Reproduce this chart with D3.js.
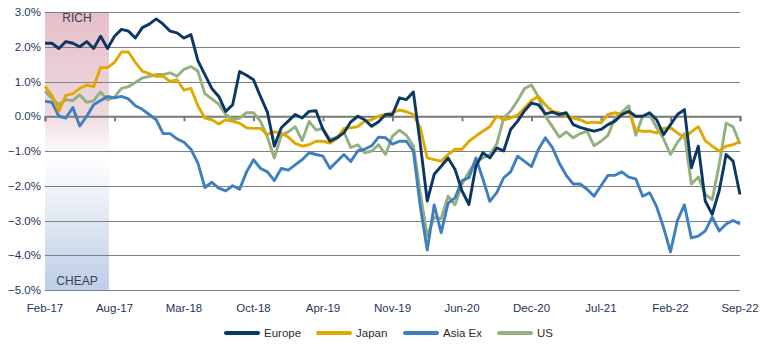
<!DOCTYPE html>
<html>
<head>
<meta charset="utf-8">
<script src="https://cdn.jsdelivr.net/npm/d3@7"></script>
<style>
  body { margin: 0; background: #fff; }
  svg { display: block; font-family: "Liberation Sans", Arial, sans-serif; }
</style>
</head>
<body>
<div id="chart"></div>
<script>
// tick labels along the bottom (one every 10 points)
var dateLabels = ['Feb-17','Aug-17','Mar-18','Oct-18','Apr-19','Nov-19','Jun-20','Dec-20','Jul-21','Feb-22','Sep-22']
var yTicks = [3, 2, 1, 0, -1, -2, -3, -4, -5]

// relative valuation (%), 101 points Feb-17 .. Sep-22
var europe = [2.1,2.1,1.95,2.15,2.1,2.0,2.15,1.95,2.3,1.95,
  2.3,2.5,2.45,2.25,2.55,2.65,2.8,2.65,2.45,2.4,
  2.25,2.35,1.6,1.2,0.8,0.57,0.14,0.33,1.29,1.18,
  1.05,0.57,0.12,-0.86,-0.33,-0.14,0.05,-0.05,0.14,0.16,
  -0.38,-0.72,-0.62,-0.48,-0.16,0.0,-0.1,-0.29,-0.16,0.05,
  0.05,0.53,0.48,0.7,-0.8,-2.44,-1.67,-1.44,-1.2,-1.53,
  -2.15,-2.54,-1.44,-1.05,-1.2,-0.91,-1.0,-0.38,-0.14,0.16,
  0.38,0.33,0.07,0.12,0.05,0.1,-0.24,-0.32,-0.38,-0.43,
  -0.38,-0.24,-0.14,0.05,0.14,0.0,0.0,0.1,-0.1,-0.53,
  -0.24,0.05,0.19,-1.48,-0.86,-2.44,-2.82,-2.15,-1.1,-1.29,
  -2.25]
var japan = [0.86,0.6,0.15,0.6,0.65,0.8,0.9,0.85,1.4,1.4,
  1.55,1.85,1.85,1.55,1.3,1.23,1.15,1.15,1.0,1.05,
  0.75,0.8,0.3,-0.05,-0.1,-0.22,-0.1,-0.15,-0.2,-0.33,
  -0.35,-0.35,-0.52,-0.45,-0.48,-0.6,-0.78,-0.86,-0.82,-0.72,
  -0.72,-0.77,-0.65,-0.35,-0.33,-0.3,-0.14,-0.1,0.0,0.05,
  0.1,0.18,0.13,0.05,-0.33,-1.2,-1.25,-1.29,-1.1,-0.95,
  -0.95,-0.72,-0.57,-0.43,-0.3,0.0,-0.1,-0.05,0.03,0.24,
  0.45,0.57,0.33,0.14,0.1,0.0,-0.05,-0.1,-0.19,-0.17,
  -0.19,0.05,0.1,0.05,0.14,-0.4,-0.43,-0.43,-0.48,-0.35,
  -0.33,-0.48,-0.62,-0.45,-0.3,-0.7,-0.86,-1.0,-0.86,-0.82,
  -0.72]
var asiaEx = [0.43,0.4,0.0,-0.05,0.25,-0.28,0.0,0.33,0.45,0.57,
  0.53,0.57,0.5,0.3,0.2,0.05,-0.1,-0.5,-0.5,-0.65,
  -0.75,-0.95,-1.35,-2.05,-1.9,-2.07,-2.15,-2.0,-2.1,-1.6,
  -1.25,-1.5,-1.6,-1.85,-1.5,-1.55,-1.4,-1.25,-1.05,-1.1,
  -1.15,-1.5,-1.3,-1.1,-1.3,-1.0,-0.95,-0.85,-0.6,-0.62,
  -0.8,-0.72,-0.72,-1.0,-2.6,-3.85,-2.55,-3.35,-2.5,-2.35,
  -1.85,-1.77,-1.2,-1.8,-2.45,-2.2,-1.77,-1.6,-1.15,-1.3,
  -1.45,-0.95,-0.62,-0.9,-1.35,-1.7,-1.95,-1.95,-2.1,-2.3,
  -2.0,-1.7,-1.7,-1.6,-1.75,-1.8,-2.3,-2.2,-2.6,-3.2,
  -3.9,-3.0,-2.55,-3.5,-3.45,-3.3,-2.9,-3.3,-3.1,-3.0,
  -3.1]
var us = [0.72,0.52,0.33,0.48,0.45,0.62,0.4,0.45,0.7,0.47,
  0.55,0.8,0.85,0.97,1.1,1.15,1.2,1.2,1.25,1.15,
  1.35,1.43,1.3,0.65,0.5,0.35,0.05,-0.1,-0.05,0.1,
  0.1,-0.15,-0.6,-1.2,-0.55,-0.45,-0.3,-0.7,-0.15,-0.4,
  -0.35,-0.67,-0.6,-0.45,-0.9,-0.82,-1.05,-1.0,-0.82,-1.1,
  -0.57,-0.4,-0.55,-0.85,-2.2,-3.45,-2.9,-2.95,-2.3,-2.55,
  -1.95,-1.6,-1.3,-1.2,-1.1,-0.8,-0.05,0.15,0.45,0.8,
  0.9,0.55,0.0,-0.3,-0.6,-0.45,-0.62,-0.5,-0.43,-0.85,
  -0.72,-0.55,-0.05,0.12,0.3,-0.55,0.0,0.05,-0.33,-0.65,
  -1.1,-0.75,-0.5,-1.95,-1.75,-2.25,-2.4,-1.4,-0.2,-0.3,
  -0.8]

var seriesNames = ['Europe', 'Japan', 'Asia Ex', 'US']
var seriesColors = ['#0a3763', '#e0a800', '#3d7fc0', '#93b07e']
var seriesData = [europe, japan, asiaEx, us]
var shadeEnd = 9.2   // rich/cheap band covers the first months

var width = 770, height = 347
var margin = {left: 45, right: 30, top: 12, bottom: 57}

var svg = d3.select('#chart').append('svg')
  .attr('width', width)
  .attr('height', height)

var x = d3.scaleLinear()
  .domain([0, europe.length - 1])
  .range([margin.left, width - margin.right])
var y = d3.scaleLinear()
  .domain([-5, 3])
  .range([height - margin.bottom, margin.top])

// shaded band
var grad = svg.append('defs').append('linearGradient')
  .attr('id', 'band')
  .attr('x1', 0).attr('y1', 0).attr('x2', 0).attr('y2', 1)
grad.append('stop').attr('offset', '0%').attr('stop-color', '#e5bfca')
grad.append('stop').attr('offset', '36%').attr('stop-color', '#eed8de')
grad.append('stop').attr('offset', '52%').attr('stop-color', '#ffffff')
grad.append('stop').attr('offset', '100%').attr('stop-color', '#bdcee6')

svg.append('rect')
  .attr('x', x(0))
  .attr('y', y(3))
  .attr('width', x(shadeEnd) - x(0))
  .attr('height', y(-5) - y(3))
  .attr('fill', 'url(#band)')

svg.append('text')
  .attr('x', x(shadeEnd / 2)).attr('y', y(2.7))
  .attr('text-anchor', 'middle')
  .style('font-size', '12px').style('fill', '#3c3f52')
  .text('RICH')
svg.append('text')
  .attr('x', x(shadeEnd / 2)).attr('y', y(-4.85))
  .attr('text-anchor', 'middle')
  .style('font-size', '12px').style('fill', '#3c3f52')
  .text('CHEAP')

// gridlines
svg.append('g')
  .selectAll('line')
  .data(yTicks.filter(function(d) { return d !== 0; }))
  .enter().append('line')
  .attr('x1', x(0)).attr('x2', x(100))
  .attr('y1', function(d) { return Math.round(y(d)) + 0.5; })
  .attr('y2', function(d) { return Math.round(y(d)) + 0.5; })
  .style('stroke', '#808080')
  .style('stroke-width', 1)

// y labels
svg.append('g')
  .selectAll('text')
  .data(yTicks)
  .enter().append('text')
  .attr('x', margin.left - 4)
  .attr('y', function(d) { return y(d) + 4; })
  .attr('text-anchor', 'end')
  .style('font-size', '11.5px')
  .style('fill', '#1f3456')
  .text(function(d) { return d3.format('.1f')(d) + '%'; })

// zero axis with ticks
var xAxis = d3.axisBottom(x)
  .tickValues(d3.range(0, 101, 10))
  .tickSize(5)
  .tickFormat('')
var zero = svg.append('g')
  .attr('transform', 'translate(0,' + y(0) + ')')
  .call(xAxis)
zero.select('.domain').style('stroke', '#7a7a7a').style('stroke-width', 2)
zero.selectAll('.tick line').style('stroke', '#7a7a7a').style('stroke-width', 2)

// x labels
svg.append('g')
  .selectAll('text')
  .data(dateLabels)
  .enter().append('text')
  .attr('x', function(d, i) { return x(i * 10); })
  .attr('y', y(-5) + 22)
  .attr('text-anchor', 'middle')
  .style('font-size', '11.5px')
  .style('fill', '#1f3456')
  .text(function(d) { return d; })

// series lines
var line = d3.line()
  .x(function(d, i) { return x(i); })
  .y(function(d) { return y(d); })

var order = [3, 2, 1, 0]
svg.append('g')
  .selectAll('path')
  .data(order)
  .enter().append('path')
  .attr('d', function(k) { return line(seriesData[k]); })
  .style('fill', 'none')
  .style('stroke', function(k) { return seriesColors[k]; })
  .style('stroke-width', 2.9)
  .style('stroke-linejoin', 'round')

// legend
var legendX = [226, 318, 405, 499]
var legend = svg.append('g')
  .selectAll('g')
  .data(seriesNames)
  .enter().append('g')
  .attr('transform', function(d, i) { return 'translate(' + legendX[i] + ',333)'; })
legend.append('line')
  .attr('x1', 0).attr('x2', 32)
  .style('stroke', function(d, i) { return seriesColors[i]; })
  .style('stroke-width', 4)
  .style('stroke-linecap', 'round')
legend.append('text')
  .attr('x', 38).attr('y', 4)
  .style('font-size', '11.5px')
  .style('fill', '#2b2b2b')
  .text(function(d) { return d; })
</script>
</body>
</html>
